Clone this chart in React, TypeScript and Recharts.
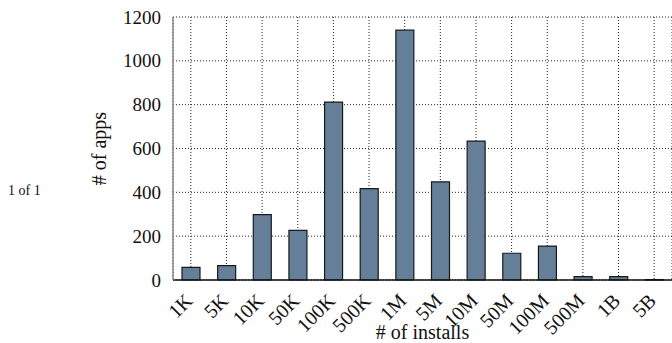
import { BarChart, Bar, XAxis, YAxis, CartesianGrid } from 'recharts';

const categories = ['1K', '5K', '10K', '50K', '100K', '500K', '1M', '5M', '10M', '50M', '100M', '500M', '1B', '5B'];
const appCounts = [58, 66, 298, 226, 812, 417, 1140, 448, 634, 122, 155, 15, 15, 2];
const yTicks = [0, 200, 400, 600, 800, 1000, 1200];

const data = categories.map((installs, i) => ({ installs, apps: appCounts[i] }));

const FONT = "'Liberation Serif', 'DejaVu Serif', serif";
const textStyle = { fontFamily: FONT, fill: '#111' };

// x labels sit at 45°, right end under the bar centre
function RotatedTick({ x, y, payload }: { x?: number; y?: number; payload?: { value: string } }) {
  return (
    <g transform={`translate(${(x ?? 0) + 3},${(y ?? 0) + 14})`}>
      <text transform="rotate(-45)" textAnchor="end" style={{ ...textStyle, fontSize: 20 }}>
        {payload?.value}
      </text>
    </g>
  );
}

function ValueTick({ x, y, payload }: { x?: number; y?: number; payload?: { value: number } }) {
  return (
    <text x={x} y={y} dy="0.35em" textAnchor="end" style={{ ...textStyle, fontSize: 19 }}>
      {payload?.value}
    </text>
  );
}

export default function App() {
  return (
    <div style={{ position: 'absolute', left: 0, top: 0, width: 672, height: 343, background: '#fff', fontFamily: FONT }}>
      <div style={{ position: 'absolute', left: 8, top: 183, fontSize: 14, color: '#111' }}>1 of 1</div>
      <BarChart
        width={672}
        height={343}
        data={data}
        margin={{ top: 17, right: 0, left: 0, bottom: 0 }}
        barSize={18}
        style={{ fontFamily: FONT }}
      >
        <CartesianGrid stroke="#222" strokeDasharray="1 2" strokeWidth={1} />
        <XAxis
          dataKey="installs"
          height={63}
          interval={0}
          tick={<RotatedTick />}
          tickLine={false}
          axisLine={{ stroke: '#111', strokeWidth: 1.5 }}
          label={{ value: '# of installs', position: 'insideBottom', offset: 4, style: { ...textStyle, fontSize: 20 } }}
        />
        <YAxis
          width={173}
          domain={[0, 1200]}
          ticks={yTicks}
          tickLine={false}
          tickSize={0}
          tickMargin={12}
          tick={<ValueTick />}
          axisLine={{ stroke: '#888', strokeWidth: 1.5 }}
          label={{ value: '# of apps', angle: -90, position: 'center', dx: 12, style: { ...textStyle, fontSize: 20 } }}
        />
        <Bar dataKey="apps" fill="#647f97" stroke="#1a1a1a" strokeWidth={1.2} isAnimationActive={false} />
      </BarChart>
    </div>
  );
}
